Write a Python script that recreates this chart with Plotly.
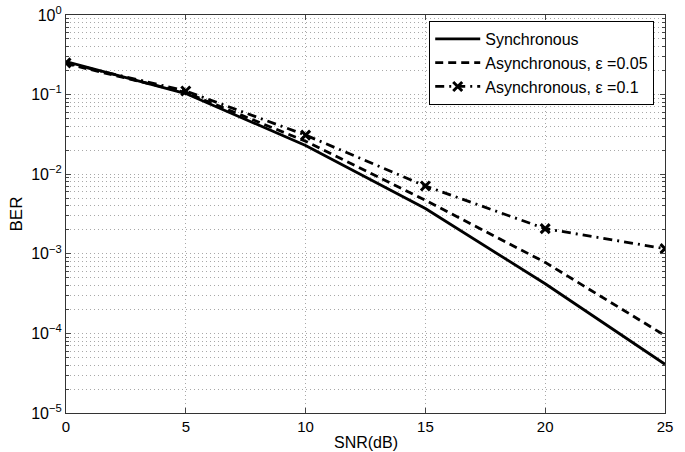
import plotly.graph_objects as go

snr = [0, 5, 10, 15, 20, 25]
ber_sync = [0.26, 0.103, 0.023, 0.0037, 0.00042, 0.000041]
ber_async_005 = [0.245, 0.106, 0.026, 0.0047, 0.00078, 0.000094]
ber_async_01 = [0.25, 0.111, 0.031, 0.0071, 0.00207, 0.00116]

names = ["Synchronous", "Asynchronous, \u03b5 =0.05", "Asynchronous, \u03b5 =0.1"]

ytickvals = [1, 0.1, 0.01, 0.001, 0.0001, 0.00001]
yticktext = ["10<sup>0</sup>", "10<sup>\u22121</sup>", "10<sup>\u22122</sup>",
             "10<sup>\u22123</sup>", "10<sup>\u22124</sup>", "10<sup>\u22125</sup>"]
xtickvals = [0, 5, 10, 15, 20, 25]

fig = go.Figure()
fig.add_trace(go.Scatter(x=snr, y=ber_sync, name=names[0], mode="lines",
                         line=dict(color="black", width=2.8)))
fig.add_trace(go.Scatter(x=snr, y=ber_async_005, name=names[1], mode="lines",
                         line=dict(color="black", width=2.8, dash="8px,5px")))
fig.add_trace(go.Scatter(x=snr, y=ber_async_01, name=names[2], mode="lines+markers",
                         line=dict(color="black", width=2.8, dash="9px,5px,2px,5px"),
                         marker=dict(symbol="x-thin", size=9, color="black",
                                     line=dict(color="black", width=3))))

font = "Liberation Sans, Arial, sans-serif"
grid = dict(showgrid=True, gridcolor="#a8a8a8", griddash="1px,3px", gridwidth=1)
fig.update_layout(
    width=685, height=452,
    margin=dict(l=66, r=20, t=15, b=39),
    paper_bgcolor="white", plot_bgcolor="white",
    font=dict(family=font, size=15, color="black"),
    showlegend=True,
    legend=dict(x=0.982, y=0.985, xanchor="right", yanchor="top",
                bgcolor="white", bordercolor="black", borderwidth=1,
                font=dict(size=16), itemwidth=45, tracegroupgap=0),
    xaxis=dict(range=[0, 25], tickvals=xtickvals, ticks="inside", ticklen=5,
               showline=True, linecolor="#333", linewidth=1.2, mirror="ticks",
               zeroline=False, automargin=False, **grid,
               tickfont=dict(size=15)),
    yaxis=dict(type="log", range=[-5, 0], tickvals=ytickvals, ticktext=yticktext,
               ticks="inside", ticklen=5,
               showline=True, linecolor="#333", linewidth=1.2, mirror="ticks",
               zeroline=False, automargin=False, **grid,
               minor=dict(dtick="D1", ticks="inside", ticklen=3, showgrid=True,
                          gridcolor="#a8a8a8", griddash="1px,3px", gridwidth=1),
               title=dict(text="BER", standoff=4, font=dict(size=17)),
               tickfont=dict(size=16)),
    annotations=[dict(text="SNR(dB)", x=0.5, y=-0.074, xref="paper", yref="paper",
                      xanchor="center", yanchor="middle", showarrow=False,
                      font=dict(size=16))],
)

fig.write_html("out.html")
